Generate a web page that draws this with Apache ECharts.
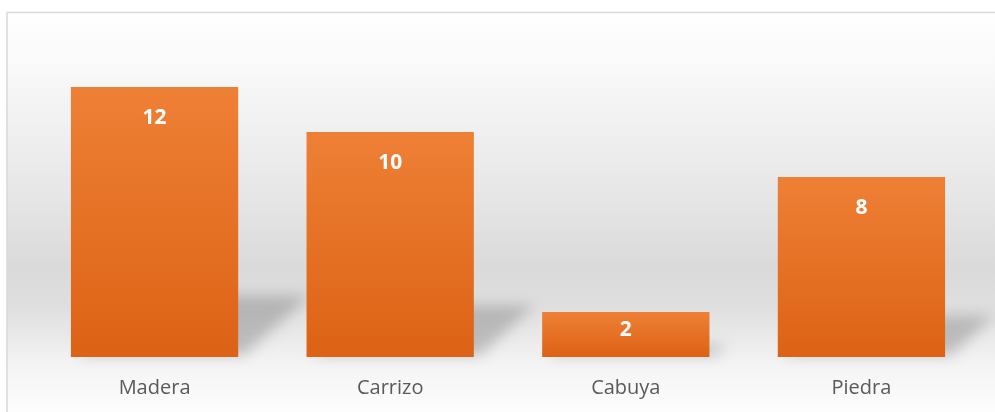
<!DOCTYPE html>
<html>
<head>
<meta charset="utf-8">
<script src="https://cdn.jsdelivr.net/npm/echarts@6/dist/echarts.min.js"></script>
<style>
  html, body { margin: 0; padding: 0; background: #ffffff; }
  #chart { width: 995px; height: 412px; }
</style>
</head>
<body>
<div id="chart"></div>
<script>
// Materiales utilizados
const categories = ['Madera', 'Carrizo', 'Cabuya', 'Piedra'];
const values = [12, 10, 2, 8];

const chart = echarts.init(document.getElementById('chart'), null, { renderer: 'canvas' });

const BAR_GAP = '29%';
const FONT = '"Open Sans", "Noto Sans", sans-serif';
const FAR = 3000; // the shape itself is drawn off-canvas; only its blurred shadow lands on the chart

// Soft perspective shadow cast behind each bar, leaning to the right
function renderShadow(params, api) {
  const idx = api.value(0);
  const v = api.value(1);
  const base = api.coord([idx, 0]);
  const top = api.coord([idx, v]);
  const band = api.size([1, 0])[0];
  const barW = band * 0.71;
  const x0 = base[0] - barW / 2 - FAR;
  const x1 = base[0] + barW / 2 - FAR;
  const barH = base[1] - top[1];
  const sh = barH * 0.22;
  const skew = sh * 1.1;
  const y0 = base[1] - 2;
  return {
    type: 'polygon',
    shape: {
      points: [
        [x0 + 6, y0],
        [x1 + 6, y0],
        [x1 + 6 + skew, y0 - sh],
        [x0 + 6 + skew, y0 - sh]
      ]
    },
    style: {
      fill: '#000',
      shadowBlur: 14,
      shadowOffsetX: FAR,
      shadowOffsetY: 0,
      shadowColor: 'rgba(110,110,110,0.38)'
    }
  };
}

// Short bars keep their value label closer to the top edge
const barData = values.map(v => ({
  value: v,
  label: { distance: v < 4 ? 8 : 21 }
}));

chart.setOption({
  animation: false,
  graphic: [{
    type: 'rect',
    z: -10,
    silent: true,
    shape: { x: 7, y: 12.5, width: 1000, height: 410 },
    style: {
      fill: new echarts.graphic.LinearGradient(0, 0, 0, 1, [
        { offset: 0, color: '#ffffff' },
        { offset: 0.12, color: '#fafafa' },
        { offset: 0.45, color: '#e6e6e6' },
        { offset: 0.62, color: '#dadada' },
        { offset: 0.72, color: '#dfdfdf' },
        { offset: 0.86, color: '#f4f4f4' },
        { offset: 1, color: '#ffffff' }
      ]),
      stroke: '#d9d9d9',
      lineWidth: 1.5
    }
  }],
  grid: { left: 36.75, right: 15.75, top: 87, bottom: 55, containLabel: false },
  xAxis: {
    type: 'category',
    data: categories,
    axisLine: { show: false },
    axisTick: { show: false },
    axisLabel: {
      color: '#595959',
      fontSize: 20,
      fontFamily: FONT,
      margin: 21
    }
  },
  yAxis: {
    type: 'value',
    min: 0,
    max: 12,
    show: false,
    splitLine: { show: false }
  },
  series: [
    {
      type: 'custom',
      renderItem: renderShadow,
      data: values.map((v, i) => [i, v]),
      encode: { x: 0, y: 1 },
      clip: false,
      z: 1,
      silent: true
    },
    {
      type: 'bar',
      data: barData,
      barCategoryGap: BAR_GAP,
      z: 2,
      itemStyle: {
        color: new echarts.graphic.LinearGradient(0, 0, 0, 1, [
          { offset: 0, color: '#ee8035' },
          { offset: 1, color: '#dc6215' }
        ])
      },
      label: {
        show: true,
        position: 'insideTop',
        color: '#ffffff',
        fontSize: 21,
        fontWeight: 'bold',
        fontFamily: FONT
      }
    }
  ]
});
</script>
</body>
</html>
